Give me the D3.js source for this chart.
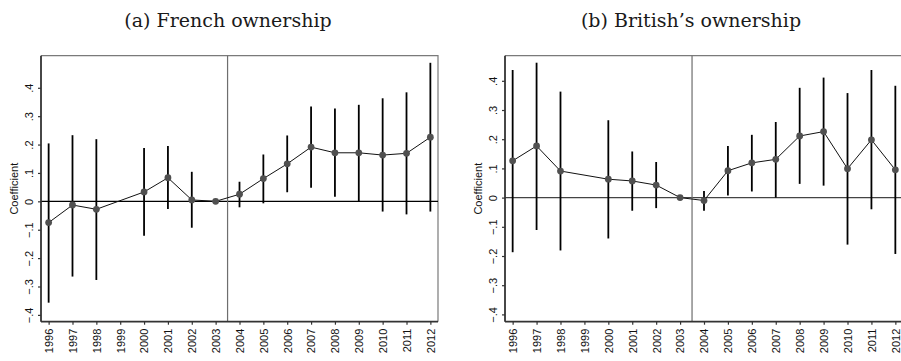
<!DOCTYPE html>
<html>
<head>
<meta charset="utf-8">
<script src="https://cdn.jsdelivr.net/npm/d3@7"></script>
<style>
  html, body { margin: 0; padding: 0; background: #fff; }
  svg { display: block; }
</style>
</head>
<body>
<svg id="chart" width="901" height="361"></svg>
<script>
// Event-study coefficients with 95% confidence intervals, base year 2003.
const years = [1996, 1997, 1998, 1999, 2000, 2001, 2002, 2003, 2004,
               2005, 2006, 2007, 2008, 2009, 2010, 2011, 2012];

// (a) French ownership
const frenchCoef = [-0.075, -0.013, -0.028, null, 0.033, 0.083, 0.005, 0,
                    0.025, 0.080, 0.132, 0.191, 0.171, 0.171, 0.163, 0.169, 0.226];
const frenchLow  = [-0.357, -0.265, -0.277, null, -0.121, -0.027, -0.093, null,
                    -0.021, -0.007, 0.032, 0.048, 0.016, 0.000, -0.036, -0.046, -0.036];
const frenchHigh = [0.204, 0.233, 0.219, null, 0.188, 0.195, 0.104, null,
                    0.069, 0.165, 0.232, 0.334, 0.327, 0.340, 0.363, 0.384, 0.488];

// (b) British's ownership
const britishCoef = [0.126, 0.177, 0.091, null, 0.063, 0.057, 0.043, 0,
                     -0.010, 0.092, 0.119, 0.131, 0.211, 0.226, 0.099, 0.198, 0.095];
const britishLow  = [-0.187, -0.111, -0.181, null, -0.140, -0.045, -0.036, null,
                     -0.045, 0.007, 0.021, 0.000, 0.047, 0.041, -0.161, -0.040, -0.193];
const britishHigh = [0.437, 0.462, 0.363, null, 0.265, 0.158, 0.122, null,
                     0.023, 0.177, 0.215, 0.259, 0.376, 0.411, 0.358, 0.437, 0.383];

const yTicks = [-0.4, -0.3, -0.2, -0.1, 0, 0.1, 0.2, 0.3, 0.4];
const treatmentBreak = 2003.5;

const titles = ["(a) French ownership", "(b) British\u2019s ownership"];
const yLabel = "Coefficient";

const svg = d3.select("#chart");

// Stata-style tick text: ".4", "-.1", "0"
const fmtTick = v => v === 0 ? "0" : d3.format(".1f")(v).replace("0.", ".");

function drawPanel(cfg) {
  const { left, right, top, bottom, yDomain, coef, lo, hi, title, titleX, zeroColor } = cfg;

  const x = d3.scaleLinear().domain([1995.68, 2012.32]).range([left, right]);
  const y = d3.scaleLinear().domain(yDomain).range([bottom, top]);

  const rows = years.map((yr, i) => ({ yr, c: coef[i], lo: lo[i], hi: hi[i] }));

  const g = svg.append("g");

  // frame: light top/right edges
  g.append("path")
    .attr("d", `M${left},${top}H${right}V${bottom}`)
    .attr("fill", "none").attr("stroke", "#7a7a7a").attr("stroke-width", 1.2);

  // zero reference line
  g.append("line")
    .attr("x1", left).attr("x2", right)
    .attr("y1", y(0)).attr("y2", y(0))
    .attr("stroke", zeroColor).attr("stroke-width", 1.2);

  // break between pre and post period
  g.append("line")
    .attr("x1", x(treatmentBreak)).attr("x2", x(treatmentBreak))
    .attr("y1", top).attr("y2", bottom)
    .attr("stroke", "#6e6e6e").attr("stroke-width", 1.2);

  // confidence interval spikes
  g.selectAll("line.ci")
    .data(rows.filter(d => d.lo != null && d.hi != null))
    .join("line").attr("class", "ci")
    .attr("x1", d => x(d.yr)).attr("x2", d => x(d.yr))
    .attr("y1", d => y(d.lo)).attr("y2", d => y(d.hi))
    .attr("stroke", "#000").attr("stroke-width", 1.8);

  // connected point estimates
  const pts = rows.filter(d => d.c != null);
  g.append("path")
    .datum(pts)
    .attr("d", d3.line().x(d => x(d.yr)).y(d => y(d.c)))
    .attr("fill", "none").attr("stroke", "#111").attr("stroke-width", 1);

  g.selectAll("circle.pt")
    .data(pts)
    .join("circle").attr("class", "pt")
    .attr("cx", d => x(d.yr)).attr("cy", d => y(d.c))
    .attr("r", 3.4).attr("fill", "#505050");

  // y axis
  const yAxis = g.append("g")
    .attr("transform", `translate(${left},0)`)
    .call(d3.axisLeft(y).tickValues(yTicks).tickSize(3).tickPadding(4).tickFormat(fmtTick));
  yAxis.select(".domain").attr("stroke", "#333").attr("stroke-width", 1.8)
    .attr("d", `M0,${top}V${bottom}`);
  yAxis.selectAll(".tick line").attr("stroke", "#333").attr("stroke-width", 1.2);
  yAxis.selectAll(".tick text")
    .attr("font-family", "Liberation Sans, Arial, sans-serif")
    .attr("font-size", 11).attr("fill", "#111")
    .attr("x", null).attr("dy", null)
    .attr("text-anchor", "middle")
    .attr("transform", "translate(-8,0) rotate(-90)")
    .attr("y", 0);

  // x axis
  const xAxis = g.append("g")
    .attr("transform", `translate(0,${bottom})`)
    .call(d3.axisBottom(x).tickValues(years).tickSize(3).tickPadding(4).tickFormat(d3.format("d")));
  xAxis.select(".domain").attr("stroke", "#333").attr("stroke-width", 1.8)
    .attr("d", `M${left},0H${right}`);
  xAxis.selectAll(".tick line").attr("stroke", "#333").attr("stroke-width", 1.2);
  xAxis.selectAll(".tick text")
    .attr("font-family", "Liberation Sans, Arial, sans-serif")
    .attr("font-size", 11).attr("fill", "#111")
    .attr("text-anchor", "end").attr("dy", "0.35em")
    .attr("y", 0).attr("x", 0)
    .attr("transform", "translate(0,7) rotate(-90)");

  // axis title
  g.append("text")
    .attr("transform", `translate(${left - 23},${(top + bottom) / 2}) rotate(-90)`)
    .attr("text-anchor", "middle")
    .attr("font-family", "Liberation Sans, Arial, sans-serif")
    .attr("font-size", 11).attr("fill", "#111")
    .text(yLabel);

  // panel caption
  svg.append("text")
    .attr("x", titleX).attr("y", 27)
    .attr("text-anchor", "middle")
    .attr("font-family", "DejaVu Serif, Liberation Serif, serif")
    .attr("font-size", 19).attr("fill", "#1a1a1a")
    .text(title);
}

drawPanel({
  left: 41, right: 438, top: 55.7, bottom: 321.7,
  yDomain: [-0.424, 0.513],
  coef: frenchCoef, lo: frenchLow, hi: frenchHigh,
  title: titles[0], titleX: 228, zeroColor: "#000"
});

drawPanel({
  left: 505, right: 903, top: 55.7, bottom: 321.7,
  yDomain: [-0.425, 0.486],
  coef: britishCoef, lo: britishLow, hi: britishHigh,
  title: titles[1], titleX: 691, zeroColor: "#444"
});
</script>
</body>
</html>
